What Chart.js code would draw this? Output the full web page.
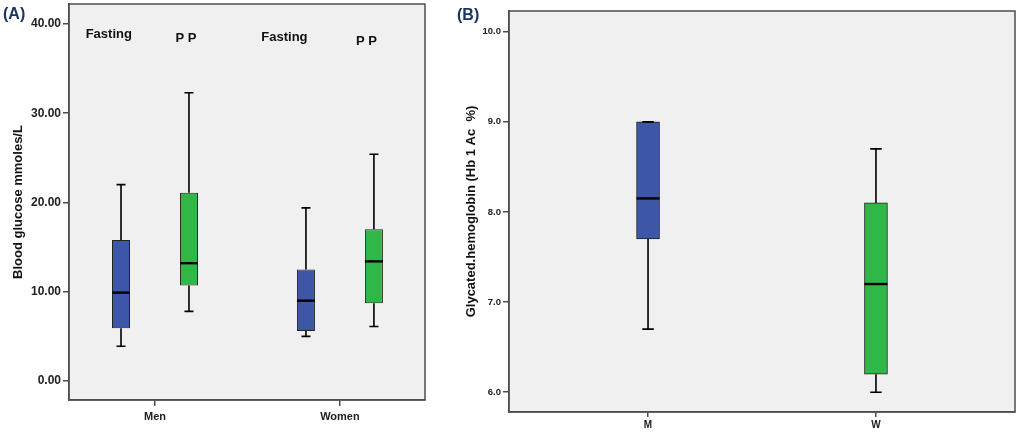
<!DOCTYPE html>
<html lang="en">
<head>
  <meta charset="UTF-8" />
  <title>Blood glucose and HbA1c</title>
  <script src="https://cdn.jsdelivr.net/npm/chart.js"></script>
  <style>
    body { margin: 0; background: #fff; width: 1023px; height: 437px; position: relative; overflow: hidden; }
    .panel { position: absolute; top: 0; height: 437px; }
    #panelA { left: 0; width: 440px; }
    #panelB { left: 440px; width: 583px; }
    .tag {
      position: absolute;
      font-family: 'Liberation Sans', Arial, sans-serif;
      font-weight: bold;
      font-size: 16px;
      color: #1c3461;
    }
  </style>
</head>
<body>
  <div class="panel" id="panelA"><canvas id="chartA"></canvas></div>
  <div class="panel" id="panelB"><canvas id="chartB"></canvas></div>
  <div class="tag" style="left:3px; top:5px;">(A)</div>
  <div class="tag" style="left:457px; top:6px;">(B)</div>

  <script>
    // panel A - blood glucose (mmoles/L)
    const groups = ['Men', 'Women'];
    const seriesNames = ['Fasting', 'P P'];
    const fastingMin = [3.9, 5.0];
    const fastingQ1 = [5.9, 5.6];
    const fastingMed = [9.9, 9.0];
    const fastingQ3 = [15.8, 12.5];
    const fastingMax = [22.0, 19.4];
    const ppMin = [7.8, 6.1];
    const ppQ1 = [10.7, 8.7];
    const ppMed = [13.2, 13.4];
    const ppQ3 = [21.1, 17.0];
    const ppMax = [32.3, 25.4];
    const glucoseTicks = [0, 10, 20, 30, 40];

    // panel B - glycated hemoglobin
    const hbGroups = ['M', 'W'];
    const hbMin = [6.7, 6.0];
    const hbQ1 = [7.7, 6.2];
    const hbMed = [8.15, 7.2];
    const hbQ3 = [9.0, 8.1];
    const hbMax = [9.0, 8.7];
    const hbTicks = [6, 7, 8, 9, 10];

    const FONT = "'Liberation Sans', Arial, sans-serif";
    const AXIS = '#4d4d4d';
    const BLUE = '#3d56a8';
    const GREEN = '#2fb848';

    Chart.defaults.font.family = FONT;
    Chart.defaults.color = '#111';
    Chart.defaults.animation = false;

    const boxes = (q1, q3) => q1.map((v, i) => ({ x: i, y: [v, q3[i]] }));

    // background, whiskers, medians, frame and in-plot notes
    const spssPlugin = {
      id: 'spss',
      beforeDraw(chart) {
        const { ctx, chartArea: a } = chart;
        ctx.save();
        ctx.fillStyle = '#f0f0f0';
        ctx.fillRect(a.left, a.top, a.width, a.height);
        ctx.restore();
      },
      afterDatasetsDraw(chart, args, opts) {
        const { ctx, chartArea: a } = chart;
        const y = chart.scales.y;
        const x = chart.scales.x;
        ctx.save();
        ctx.strokeStyle = '#000';
        chart.data.datasets.forEach((ds, i) => {
          chart.getDatasetMeta(i).data.forEach((bar, j) => {
            const half = bar.width / 2;
            const top = y.getPixelForValue(ds.whiskerMax[j]);
            const bot = y.getPixelForValue(ds.whiskerMin[j]);
            const q3 = y.getPixelForValue(ds.data[j].y[1]);
            const q1 = y.getPixelForValue(ds.data[j].y[0]);
            ctx.lineWidth = 1.6;
            ctx.beginPath();
            ctx.moveTo(bar.x, q3); ctx.lineTo(bar.x, top);
            ctx.moveTo(bar.x, q1); ctx.lineTo(bar.x, bot);
            ctx.moveTo(bar.x - half / 2, top); ctx.lineTo(bar.x + half / 2, top);
            ctx.moveTo(bar.x - half / 2, bot); ctx.lineTo(bar.x + half / 2, bot);
            ctx.stroke();
            const m = y.getPixelForValue(ds.median[j]);
            ctx.lineWidth = 2.4;
            ctx.beginPath();
            ctx.moveTo(bar.x - half, m); ctx.lineTo(bar.x + half, m);
            ctx.stroke();
          });
        });
        ctx.strokeStyle = AXIS;
        ctx.lineWidth = 1.5;
        ctx.strokeRect(a.left, a.top, a.width, a.height);
        if (opts.notes) {
          ctx.fillStyle = '#111';
          ctx.font = 'bold 13px ' + FONT;
          ctx.textAlign = 'center';
          ctx.textBaseline = 'alphabetic';
          opts.notes.forEach(n => {
            ctx.fillText(n.text, x.getPixelForValue(n.x), y.getPixelForValue(n.y));
          });
        }
        ctx.restore();
      }
    };

    function axisY(min, max, tickVals, digits, title, titlePad, fontSize) {
      return {
        min: min, max: max,
        afterBuildTicks: s => { s.ticks = tickVals.map(v => ({ value: v })); },
        afterFit: s => { s.width = 69; s.paddingTop = 0; s.paddingBottom = 0; },
        ticks: { color: '#222', padding: 2, font: { size: fontSize, weight: 'bold' }, callback: v => v.toFixed(digits) },
        grid: { drawOnChartArea: false, tickLength: 6, color: AXIS, lineWidth: 1.5 },
        border: { color: AXIS, width: 1.5 },
        title: { display: true, text: title, color: '#111', font: { size: 13, weight: 'bold' }, padding: { top: titlePad, bottom: 0 } }
      };
    }

    function axisX(min, max, names, height, tickLen, pad, fontSize) {
      return {
        type: 'linear', min: min, max: max, offset: false,
        afterBuildTicks: s => { s.ticks = names.map((_, i) => ({ value: i })); },
        afterFit: s => { s.height = height; s.paddingLeft = 0; s.paddingRight = 0; },
        ticks: { color: '#222', padding: pad, font: { size: fontSize, weight: 'bold' }, callback: v => names[v] },
        grid: { drawOnChartArea: false, offset: false, tickLength: tickLen, color: AXIS, lineWidth: 1.5 },
        border: { color: AXIS, width: 1.5 }
      };
    }

    new Chart(document.getElementById('chartA'), {
      type: 'bar',
      data: {
        datasets: [
          {
            label: seriesNames[0],
            data: boxes(fastingQ1, fastingQ3),
            median: fastingMed, whiskerMin: fastingMin, whiskerMax: fastingMax,
            backgroundColor: BLUE, borderColor: '#222', borderWidth: 1, borderSkipped: false
          },
          {
            label: seriesNames[1],
            data: boxes(ppQ1, ppQ3),
            median: ppMed, whiskerMin: ppMin, whiskerMax: ppMax,
            backgroundColor: GREEN, borderColor: '#222', borderWidth: 1, borderSkipped: false
          }
        ]
      },
      options: {
        responsive: true,
        maintainAspectRatio: false,
        categoryPercentage: 0.735,
        barPercentage: 0.265,
        layout: { padding: { left: 0, right: 15, top: 4, bottom: 0 } },
        plugins: {
          legend: { display: false },
          tooltip: { enabled: false },
          spss: {
            notes: [
              { text: seriesNames[0], x: -0.25, y: 38.48 },
              { text: seriesNames[1], x: 0.168, y: 38.03 },
              { text: seriesNames[0], x: 0.70, y: 38.10 },
              { text: seriesNames[1], x: 1.144, y: 37.65 }
            ]
          }
        },
        scales: {
          x: axisX(-0.465, 1.46, groups, 37, 6, 4, 11),
          y: axisY(-2.13, 42.24, glucoseTicks, 2, 'Blood glucose mmoles/L', 10.5, 12)
        }
      },
      plugins: [spssPlugin]
    });

    new Chart(document.getElementById('chartB'), {
      type: 'bar',
      data: {
        datasets: [
          {
            label: 'Hb1Ac',
            data: boxes(hbQ1, hbQ3),
            median: hbMed, whiskerMin: hbMin, whiskerMax: hbMax,
            backgroundColor: [BLUE, GREEN], borderColor: '#222', borderWidth: 1, borderSkipped: false,
            barThickness: 23
          }
        ]
      },
      options: {
        responsive: true,
        maintainAspectRatio: false,
        layout: { padding: { left: 0, right: 8, top: 11, bottom: 0 } },
        plugins: {
          legend: { display: false },
          tooltip: { enabled: false },
          spss: {}
        },
        scales: {
          x: axisX(-0.61, 1.61, hbGroups, 25, 5, 2, 10),
          y: axisY(5.78, 10.23, hbTicks, 1, 'Glycated.hemoglobin (Hb 1 Ac  %)', 23.5, 9.5)
        }
      },
      plugins: [spssPlugin]
    });
  </script>
</body>
</html>
